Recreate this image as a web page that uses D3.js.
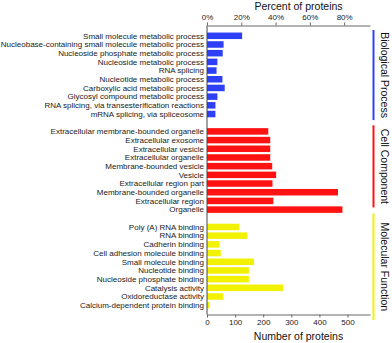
<!DOCTYPE html>
<html><head><meta charset="utf-8">
<script src="https://cdn.jsdelivr.net/npm/d3@7"></script>
<style>body{margin:0;background:#fff}svg{display:block}text{font-family:"Liberation Sans",Arial,sans-serif}</style>
</head><body>
<script>
const bpLabels = ["Small molecule metabolic process","Nucleobase-containing small molecule metabolic process","Nucleoside phosphate metabolic process","Nucleoside metabolic process","RNA splicing","Nucleotide metabolic process","Carboxylic acid metabolic process","Glycosyl compound metabolic process","RNA splicing, via transesterification reactions","mRNA splicing, via spliceosome"];
const bpValues = [125, 59, 56, 37, 34, 55, 63, 37, 30, 30];
const ccLabels = ["Extracellular membrane-bounded organelle","Extracellular exosome","Extracellular  vesicle","Extracellular organelle","Membrane-bounded vesicle","Vesicle","Extracellular region part","Membrane-bounded organelle","Extracellular region","Organelle"];
const ccValues = [218, 225, 225, 225, 232, 246, 233, 466, 236, 482];
const mfLabels = ["Poly (A) RNA binding","RNA binding","Cadherin binding","Cell adhesion molecule binding","Small molecule binding","Nucleotide binding","Nucleoside phosphate binding","Catalysis activity","Oxidoreductase activity","Calcium-dependent protein binding"];
const mfValues = [114, 143, 45, 49, 167, 149, 149, 271, 57, 10];
const groupNames = ["Biological Process","Cell Component","Molecular Function"];
const groupColors = ["#2e40f5","#ff1212","#f2f200"];
const countTicks = [0, 100, 200, 300, 400, 500];
const percentTicks = [0, 0.2, 0.4, 0.6, 0.8];
const totalProteins = 610;
const countMax = 580;

const W = 392, H = 343;
const svg = d3.select("body").append("svg").attr("width", W).attr("height", H);

const groups = [
  {name: groupNames[0], color: groupColors[0], labels: bpLabels, values: bpValues, b0: -0.67, b1: 9.7},
  {name: groupNames[1], color: groupColors[1], labels: ccLabels, values: ccValues, b0: 10.3, b1: 19.75},
  {name: groupNames[2], color: groupColors[2], labels: mfLabels, values: mfValues, b0: 20.45, b1: 32.7}
];
const rows = [];
const slots = [];
groups.forEach((g, gi) => {
  if (gi > 0) slots.push("gap" + gi);
  g.start = slots.length;
  g.labels.forEach((l, i) => { const key = g.name + "|" + i; slots.push(key); rows.push({key, label: l, value: g.values[i], color: g.color}); });
  g.end = slots.length - 1;
});

const y = d3.scaleBand().domain(slots).range([31.45, 309.55]).paddingInner(0.25).paddingOuter(0.125);
const slotY = d3.scaleLinear().domain([0, slots.length - 1]).range([y(slots[0]) + y.bandwidth()/2, y(slots[slots.length-1]) + y.bandwidth()/2]);
const x = d3.scaleLinear().domain([0, countMax]).range([207, 370]);
const xp = d3.scaleLinear().domain([0, countMax / totalProteins]).range([207, 370]);

// bars
svg.append("g").selectAll("rect").data(rows).join("rect")
  .attr("x", x(0)).attr("y", d => y(d.key))
  .attr("width", d => x(d.value) - x(0)).attr("height", y.bandwidth())
  .attr("fill", d => d.color);

// category labels
svg.append("g").selectAll("text").data(rows).join("text")
  .attr("x", x(0) - 3).attr("y", d => y(d.key) + y.bandwidth()/2)
  .attr("dy", "0.35em").attr("text-anchor", "end")
  .attr("font-size", "8px").attr("fill", "#1a1a1a").text(d => d.label);

// bottom axis
const bottomY = 314.5;
const gb = svg.append("g").attr("transform", `translate(0,${bottomY})`)
  .call(d3.axisBottom(x).tickValues(countTicks).tickSize(3).tickSizeOuter(0));
gb.select(".domain").attr("stroke", "#666");
gb.selectAll(".tick line").attr("stroke", "#666");
gb.selectAll(".tick text").attr("font-size", "8px").attr("fill", "#1a1a1a").attr("font-family", "Liberation Sans, Arial, sans-serif").attr("dy", "0.55em");

// top axis
const topY = 25.5;
const gt = svg.append("g").attr("transform", `translate(0,${topY})`)
  .call(d3.axisTop(xp).tickValues(percentTicks).tickFormat(d3.format(".0%")).tickSize(3).tickSizeOuter(0));
gt.select(".domain").attr("stroke", "#666");
gt.selectAll(".tick line").attr("stroke", "#666");
gt.selectAll(".tick text").attr("font-size", "8px").attr("fill", "#1a1a1a").attr("font-family", "Liberation Sans, Arial, sans-serif");

// left vertical axis line
svg.append("line").attr("x1", x(0)).attr("x2", x(0)).attr("y1", topY).attr("y2", bottomY)
  .attr("stroke", "#444").attr("stroke-width", 1);

// titles
svg.append("text").attr("x", 298.5).attr("y", 10).attr("text-anchor", "middle")
  .attr("font-size", "10.5px").attr("fill", "#111").text("Percent of proteins");
svg.append("text").attr("x", 298.5).attr("y", 340).attr("text-anchor", "middle")
  .attr("font-size", "10.5px").attr("fill", "#111").text("Number of proteins");

// group brackets and labels
groups.forEach(g => {
  const y0 = slotY(g.b0), y1 = slotY(g.b1);
  svg.append("line").attr("x1", 373.5).attr("x2", 373.5).attr("y1", y0).attr("y2", y1)
    .attr("stroke", g.color).attr("stroke-width", 2);
  const cy = (y0 + y1) / 2;
  svg.append("text").attr("transform", `translate(385,${cy}) rotate(90)`)
    .attr("text-anchor", "middle").attr("dominant-baseline", "central")
    .attr("font-size", "10.5px").attr("fill", "#111").text(g.name);
});
</script>
</body></html>
